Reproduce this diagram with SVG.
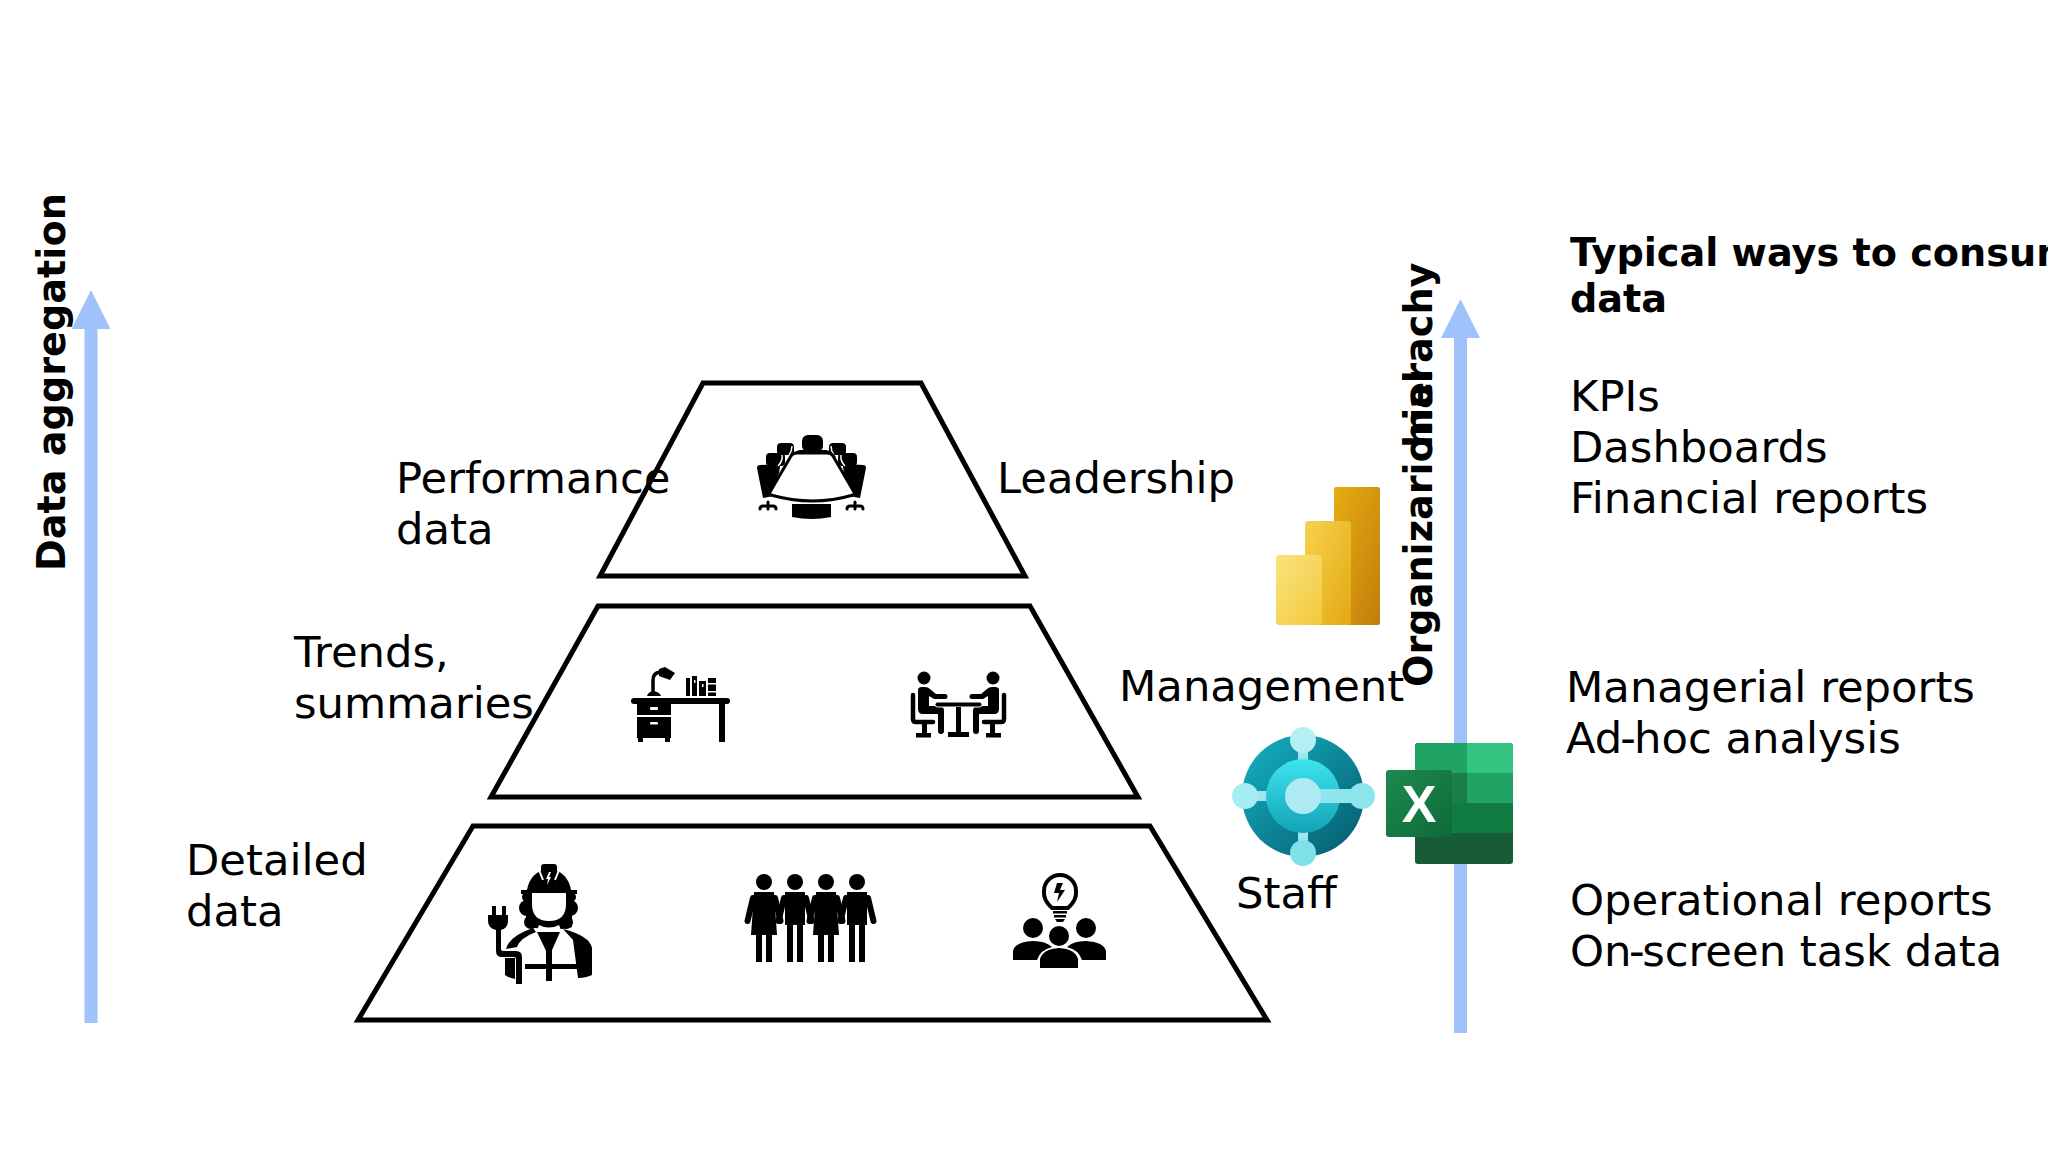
<svg xmlns="http://www.w3.org/2000/svg" width="2048" height="1152" viewBox="0 0 2048 1152">
<style>
text{font-family:"DejaVu Sans","Liberation Sans",sans-serif;fill:#000}
.t{font-size:43.300px}
.b{font-size:38.200px;font-weight:bold}
.tier{fill:#fff;stroke:#000;stroke-width:5;stroke-linejoin:miter}
.w{fill:#fff}
.ws{fill:none;stroke:#fff}
.k{fill:none;stroke:#000;stroke-linecap:round}
.shaft{stroke:#9fc2fb;stroke-width:13;fill:none}
</style>
<defs>
<marker id="ah" markerUnits="userSpaceOnUse" markerWidth="38" markerHeight="39" refX="0" refY="19.5" orient="auto"><path d="M0 0L39 19.5L0 39z" fill="#9fc2fb"/></marker>
<linearGradient id="p1" x1="0" y1="0" x2="1" y2="1"><stop offset="0" stop-color="#e6ad10"/><stop offset="1" stop-color="#c27d0c"/></linearGradient>
<linearGradient id="p2" x1="0" y1="0" x2="1" y2="1"><stop offset="0" stop-color="#f6d24f"/><stop offset="1" stop-color="#e3a812"/></linearGradient>
<linearGradient id="p3" x1="0" y1="0" x2="1" y2="1"><stop offset="0" stop-color="#f9e47f"/><stop offset="1" stop-color="#f2c83b"/></linearGradient>
<linearGradient id="bc1" x1="0" y1="0" x2="1" y2="1"><stop offset="0" stop-color="#14b3c4"/><stop offset="1" stop-color="#05596b"/></linearGradient>
<linearGradient id="bc2" x1="0" y1="0" x2="0" y2="1"><stop offset="0" stop-color="#3ee4ee"/><stop offset="1" stop-color="#12a3b6"/></linearGradient>
<linearGradient id="xl" x1="0" y1="0" x2="1" y2="1"><stop offset="0" stop-color="#1c8a50"/><stop offset="1" stop-color="#0e6a37"/></linearGradient>
<g id="woman">
<circle cx="0" cy="882" r="8"/>
<path d="M-10 892H10L13 935H-13z"/>
<path d="M-11 898L-16.500 921M11 898L16.500 921" stroke="#000" stroke-width="6" stroke-linecap="round" fill="none"/>
<rect x="-8" y="935" width="6" height="27"/><rect x="2" y="935" width="6" height="27"/>
</g>
<g id="man">
<circle cx="0" cy="882" r="8"/>
<path d="M-10 892H10V925H8V962H2V925H-2V962H-8V925H-10z"/>
<path d="M-11 898L-16.500 921M11 898L16.500 921" stroke="#000" stroke-width="6" stroke-linecap="round" fill="none"/>
</g>
<g id="sitter">
<circle cx="924" cy="678" r="6.500"/>
<path d="M918 690q0-3 4-3h3q3 0 5 2l6 5h9a2.500 2.500 0 0 1 0 5h-11l-5-3v10h10q5 0 5 5v20a3 3 0 0 1-6 0v-17h-15q-5 0-5-5z"/>
<path class="k" stroke-width="4.500" d="M913 695v24q0 3 3 3h17"/>
<rect x="922" y="724" width="5" height="10"/><rect x="916" y="733" width="15" height="4.500"/>
</g>
<g id="bigchair">
<path d="M757 468q0-3 3-3l17-1q3 0 3 3l-1 6-7 18 2 5-11 2z"/>
<rect x="766" y="453" width="19" height="13" rx="4"/>
<rect x="777" y="443" width="17" height="12" rx="4"/>
<path class="ws" stroke-width="1.500" d="M778 466q5-5 4-11M789 455q3-4 3-9"/>
<path class="k" stroke-width="3" d="M768 502v7M760 509q0-3 3-3h10q3 0 3 3"/>
</g>
</defs>

<g id="connectors">
<line class="shaft" x1="91" y1="1023" x2="91" y2="329" marker-end="url(#ah)"/>
<line class="shaft" x1="1460.500" y1="1033" x2="1460.500" y2="338" marker-end="url(#ah)"/>
</g>

<g id="tier-top"><polygon class="tier" points="703,383 921,383 1025,576 600,576"/>
<g id="icon-meeting">
<use href="#bigchair"/><use href="#bigchair" transform="matrix(-1 0 0 1 1623 0)"/>
<rect x="802" y="435" width="21" height="17" rx="6"/>
<path d="M790 457q4-6 10-7h26q6 1 10 7z"/>
<path d="M792 504h39v13q-19 4-39 0z"/>
<path fill="#fff" stroke="#000" stroke-width="3" d="M797 453h30q4 0 6 3l21 36q1 2-1 3-40 12-82 0-2-1-1-3l21-36q2-3 6-3z"/>
</g></g>

<g id="tier-mid"><polygon class="tier" points="598,606 1030,606 1138,797 491,797"/>
<g id="icon-desk">
<rect x="631" y="698" width="99" height="6" rx="3"/>
<path d="M637 704h34v11h-34zM637 717h34v21h-1v4h-5v-4h-22v4h-5v-4h-1z"/>
<rect x="650" y="707" width="8" height="3" rx="1" class="w"/><rect x="650" y="722" width="8" height="2.500" rx="1" class="w"/>
<rect x="719" y="704" width="6" height="38"/>
<path class="k" stroke-width="3.500" d="M653 692v-12q0-7 7-8"/>
<path d="M647 696q1-4 6-5q7 1 8 5zM659 669l6-2 10 6-5 7-11-4z"/>
<rect x="686" y="678" width="4" height="18"/><rect x="692" y="676" width="5" height="20"/><rect x="699" y="681" width="7" height="15"/><rect x="708" y="678" width="8" height="18"/>
<rect x="708" y="683" width="8" height="1.500" class="w"/><rect x="708" y="691" width="8" height="1.500" class="w"/><rect x="694" y="680" width="1.500" height="3" class="w"/><rect x="702" y="684" width="1.500" height="3" class="w"/>
</g>
<g id="icon-meeting-two">
<use href="#sitter"/><use href="#sitter" transform="matrix(-1 0 0 1 1917 0)"/>
<rect x="935" y="702" width="47" height="5" rx="2.500" stroke="#fff" stroke-width="1"/>
<rect x="956" y="707" width="5" height="26"/><rect x="948" y="732" width="21" height="5"/>
</g></g>

<g id="tier-low"><polygon class="tier" points="473,826 1150,826 1267,1020 358,1020"/>
<g id="icon-worker">
<rect x="541" y="864" width="16" height="10" rx="3"/>
<path d="M527 890Q530 872 549 868Q568 872 571 890z"/>
<path d="M521 890h56v4h-56z"/>
<path d="M526 890h46v37q-10 4-46 0z"/>
<circle cx="527" cy="908" r="8"/><circle cx="531" cy="922" r="7"/><circle cx="527" cy="897" r="5"/>
<circle cx="570" cy="908" r="8"/><circle cx="566" cy="922" r="7"/><circle cx="571" cy="897" r="5"/>
<path class="ws" stroke-width="2" d="M539 870l4 10M559 870l-4 10"/>
<path class="w" d="M549 872l-3 7h2l-1 6 4-8h-2l2-5z"/>
<path class="w" d="M532 893H566V904Q566 921 549 921Q532 921 532 904Z"/>
<path class="w" d="M539 925q10 5 20 0l2 5q-12 4-24 0z"/>
<path d="M537 932h23L549 957z"/>
<path d="M506 949q3-13 27-21l3 4q-16 6-19 15z"/>
<path d="M505 958h10v21q-6-1-10-4z"/>
<path d="M563 929Q590 936 592 948L592 975Q586 978 578 978L573 940z"/>
<rect x="525" y="964" width="53" height="5"/>
<rect x="546" y="950" width="6" height="31"/>
<path d="M492 906h4v9h-4zM502 906h4v9h-4z"/>
<path d="M488 915h20v6q0 7-7 9v19q0 2 2 2h13q6 0 6 6v27h-6v-25q0-2-2-2h-12q-6 0-6-6v-21q-8-2-8-9z"/>
</g>
<g id="icon-people">
<use href="#woman" x="764"/><use href="#man" x="795"/><use href="#woman" x="826"/><use href="#man" x="857"/>
</g>
<g id="icon-idea">
<path fill="none" stroke="#000" stroke-width="4" d="M1052 908q-9-8-8-17a16 16 0 0 1 32 0q1 9-8 17z"/>
<path d="M1057 883h6l-3 7h5l-8 12 2-9h-5z"/>
<rect x="1053" y="911" width="14" height="2.500"/><rect x="1054" y="915" width="12" height="2.500"/><path d="M1055 919h10l-2 3h-6z"/>
<circle cx="1033" cy="928" r="10"/><circle cx="1086" cy="928" r="10"/>
<path d="M1013 960v-9q2-9 20-10 13 0 19 6-12 3-15 13z"/><path d="M1106 960v-9q-2-9-20-10-13 0-19 6 12 3 15 13z"/>
<circle cx="1059" cy="936" r="10"/>
<path d="M1040 968v-9q3-10 19-11 16 1 19 11v9z"/>
</g></g>

<g id="logo-powerbi">
<rect x="1334" y="487" width="46" height="138" rx="2" fill="url(#p1)"/>
<rect x="1305" y="521" width="46" height="104" rx="3" fill="url(#p2)"/>
<rect x="1276" y="555" width="46" height="70" rx="3" fill="url(#p3)"/>
</g>

<g id="logo-business-central">
<circle cx="1303" cy="796" r="61" fill="url(#bc1)"/>
<path d="M1303 740V853M1245 796H1362" stroke="#9be6ee" stroke-width="10"/>
<circle cx="1303" cy="796" r="37" fill="url(#bc2)"/>
<path d="M1303 796H1362" stroke="#8fe5ee" stroke-width="14"/>
<circle cx="1303" cy="796" r="18" fill="#aeeaf1"/>
<circle cx="1303" cy="740" r="13" fill="#b4eff4"/><circle cx="1303" cy="853" r="13" fill="#7fe0ea"/><circle cx="1245" cy="796" r="13" fill="#a5edf2"/><circle cx="1362" cy="796" r="13" fill="#8fe5ee"/>
</g>

<g id="logo-excel">
<rect x="1415" y="743" width="98" height="121" rx="3" fill="#185c37"/>
<path d="M1415 746q0-3 3-3h49v30h-52z" fill="#21a366"/>
<path d="M1467 743h43q3 0 3 3v27h-46z" fill="#33c481"/>
<rect x="1415" y="773" width="52" height="30" fill="#1b7f4c"/><rect x="1467" y="773" width="46" height="30" fill="#21a366"/>
<rect x="1415" y="803" width="98" height="30" fill="#107c41"/>
<rect x="1386" y="770" width="66" height="67" rx="3" fill="url(#xl)"/>
<text x="1419" y="822" text-anchor="middle" style="font-family:'Liberation Sans',sans-serif;font-size:52px;font-weight:bold;fill:#fff">X</text>
</g>

<g id="labels">
<text class="t" x="396" y="493">Performance</text><text class="t" x="396" y="544">data</text>
<text class="t" x="997" y="493">Leadership</text>
<text class="t" x="294" y="667">Trends,</text><text class="t" x="294" y="718">summaries</text>
<text class="t" x="1119" y="701">Management</text>
<text class="t" x="186" y="875">Detailed</text><text class="t" x="186" y="926">data</text>
<text class="t" x="1236" y="908">Staff</text>
<text class="b" x="1570" y="266">Typical ways to consume</text><text class="b" x="1570" y="312">data</text>
<text class="t" x="1570" y="411">KPIs</text><text class="t" x="1570" y="462">Dashboards</text><text class="t" x="1570" y="513">Financial reports</text>
<text class="t" x="1566" y="702">Managerial reports</text><text class="t" x="1566" y="753">Ad<tspan dx="-2">-</tspan><tspan dx="-2">hoc analysis</tspan></text>
<text class="t" x="1570" y="915">Operational reports</text><text class="t" x="1570" y="966">On<tspan dx="-2.500">-</tspan><tspan dx="-2.500">screen task data</tspan></text>
<text class="b" transform="translate(65 571) rotate(-90)">Data aggregation</text>
<text class="b" transform="translate(1432 687) rotate(-90)">Organizarional</text>
<text class="b" transform="translate(1432 448) rotate(-90)">hierachy</text>
</g>
</svg>
